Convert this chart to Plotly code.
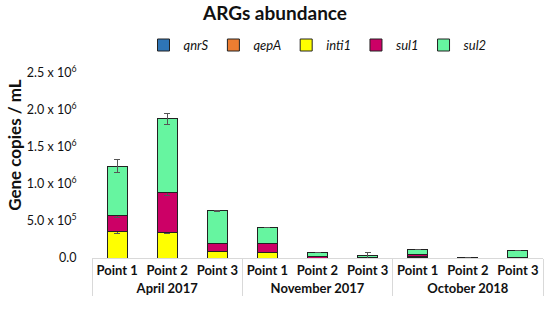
import plotly.graph_objects as go

groups = ["April 2017"] * 3 + ["November 2017"] * 3 + ["October 2018"] * 3
points = ["Point 1", "Point 2", "Point 3"] * 3

qnrS = [0.0, 0.0, 0.0, 0.0, 0.0, 0.0, 0.002e6, 0.0, 0.0]
qepA = [0.0, 0.0, 0.0, 0.0, 0.0, 0.0, 0.01e6, 0.0, 0.0]
inti1 = [0.36e6, 0.34e6, 0.085e6, 0.077e6, 0.0, 0.0, 0.005e6, 0.0, 0.0]
sul1 = [0.22e6, 0.55e6, 0.115e6, 0.123e6, 0.015e6, 0.005e6, 0.03e6, 0.003e6, 0.01e6]
sul2 = [0.66e6, 0.99e6, 0.44e6, 0.21e6, 0.055e6, 0.035e6, 0.07e6, 0.007e6, 0.085e6]

inti1_err = [0.03e6, 0.01e6, 0.0, 0.0, 0.0, 0.0, 0.0, 0.0, 0.0]
sul1_err = [0.035e6, 0.04e6, 0.005e6, 0.0, 0.0, 0.0, 0.0, 0.0, 0.0]
sul2_err = [0.09e6, 0.07e6, 0.005e6, 0.0, 0.0, 0.04e6, 0.0, 0.0, 0.0]

tick_vals = [0, 0.5e6, 1.0e6, 1.5e6, 2.0e6, 2.5e6]
tick_text = ["0.0", "5.0 x 10<sup>5</sup>", "1.0 x 10<sup>6</sup>", "1.5 x 10<sup>6</sup>",
             "2.0 x 10<sup>6</sup>", "2.5 x 10<sup>6</sup>"]

series = [
    ("qnrS", qnrS, None, "#2E75B6"),
    ("qepA", qepA, None, "#ED7D31"),
    ("inti1", inti1, inti1_err, "#FFFF00"),
    ("sul1", sul1, sul1_err, "#CC0066"),
    ("sul2", sul2, sul2_err, "#66F5A0"),
]

fig = go.Figure()
for name, vals, err, color in series:
    kw = {}
    if err is not None:
        kw["error_y"] = dict(type="data", array=err, visible=True, color="#555555",
                             thickness=1, width=3)
    fig.add_trace(go.Bar(
        x=[groups, points], y=vals, name=f"<i>{name}</i>",
        marker=dict(color=color, line=dict(color="#222222", width=1)),
        **kw))

fig.update_layout(
    width=550, height=320,
    barmode="stack", bargap=0.6,
    font=dict(family="Lato, sans-serif", size=12, color="#111111"),
    title=dict(text="<b>ARGs abundance</b>", x=0.5, xanchor="center", y=0.958, yanchor="middle",
               font=dict(size=19)),
    legend=dict(orientation="h", x=0.5, xanchor="center", y=1.151, yanchor="middle",
                font=dict(size=13), itemwidth=30, traceorder="normal"),
    margin=dict(l=92, r=7, t=73, b=62, autoexpand=False),
    plot_bgcolor="white", paper_bgcolor="white",
    showlegend=True,
    annotations=[dict(text="<b>Gene copies / mL</b>", textangle=-90,
                      xref="paper", yref="paper", x=-0.171, y=0.611,
                      xanchor="center", yanchor="middle", showarrow=False,
                      font=dict(size=17))],
)
fig.update_yaxes(range=[0, 2.5e6], tickvals=tick_vals, ticktext=tick_text,
                 showgrid=False, zeroline=False, showline=False, automargin=False,
                 ticks="outside", ticklen=12, tickcolor="white",
                 tickfont=dict(size=12.5))
fig.update_xaxes(showline=True, linecolor="#D9D9D9", linewidth=1, automargin=False,
                 showdividers=True, dividercolor="#D9D9D9", dividerwidth=1,
                 tickfont=dict(size=13, weight="bold"), ticks="")

# remove the page's default 8px body margin so the figure sits at the window's corner
fig.write_html("out.html", config={"displayModeBar": False},
               post_script="document.body.style.margin='0px';")
